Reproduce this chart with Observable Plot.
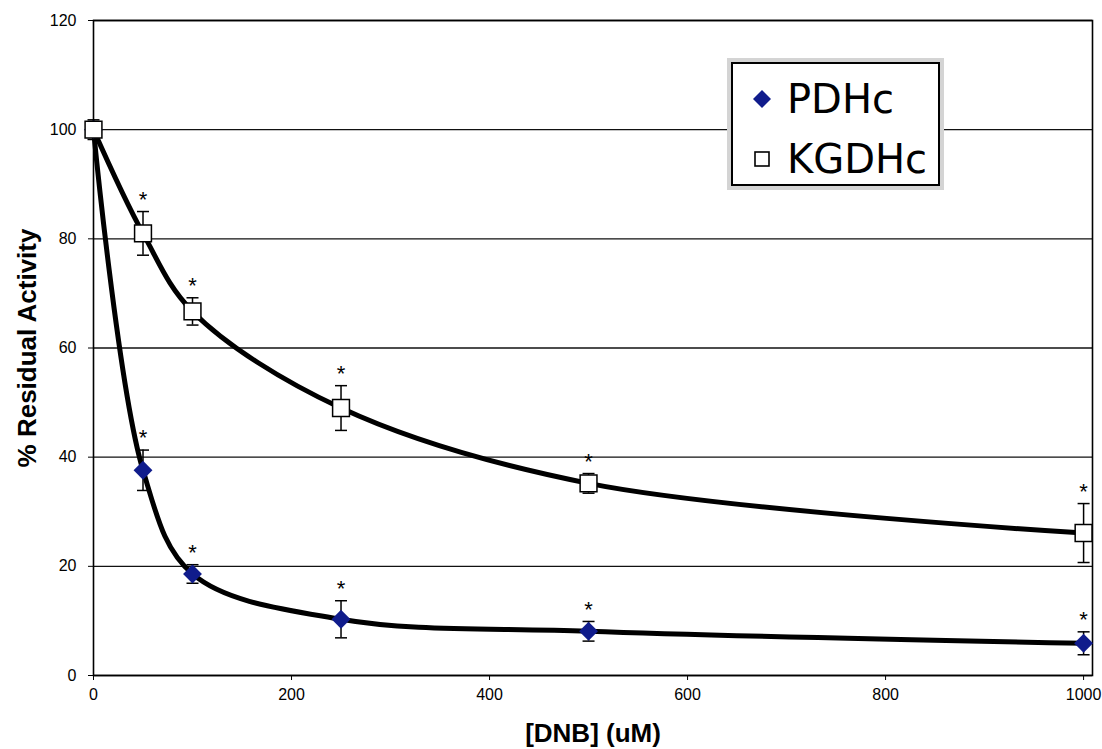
<!DOCTYPE html>
<html>
<head>
<meta charset="utf-8">
<script src="https://cdn.jsdelivr.net/npm/d3@7"></script>
<script src="https://cdn.jsdelivr.net/npm/@observablehq/plot@0.6"></script>
<style>
  body { margin: 0; background: #fff; }
  #wrap { position: relative; width: 1102px; height: 749px; }
  #legend { position: absolute; left: 727px; top: 58px; width: 209px; height: 124px; border: 4px solid #d4d4d4; background: #fff; }
  #legend .inner { position: relative; box-sizing: border-box; width: 100%; height: 100%; border: 2.5px solid #000; background: #fff; }
  #legend .row { position: absolute; left: 0; height: 50px; width: 100%; }
  #legend .row svg { position: absolute; left: 17px; top: 13px; }
  #legend .row span { position: absolute; left: 54px; top: 0; line-height: 50px; font-family: "DejaVu Sans", Verdana, sans-serif; font-size: 40px; color: #000; }
</style>
</head>
<body>
<div id="wrap"></div>
<script>
// ---- data ----
const conc = [0, 50, 100, 250, 500, 1000];                 // [DNB] (uM)
const pdhcMean = [100, 37.6, 18.6, 10.3, 8.1, 5.9];
const pdhcErr  = [0.3, 3.7, 1.7, 3.4, 1.8, 2.1];
const kgdhcMean = [100, 81.0, 66.7, 49.0, 35.2, 26.1];
const kgdhcErr  = [1.8, 4.0, 2.5, 4.1, 1.8, 5.4];
const signif = ["", "*", "*", "*", "*", "*"];
const seriesNames = ["PDHc", "KGDHc"];
const xTicks = [0, 200, 400, 600, 800, 1000];
const yTicks = [0, 20, 40, 60, 80, 100, 120];
const xTitle = "[DNB] (uM)";
const yTitle = "% Residual Activity";

const diamondColor = "#101c8c";

const rows = [];
conc.forEach((c, i) => {
  rows.push({series: "PDHc", x: c, y: pdhcMean[i], lo: pdhcMean[i] - pdhcErr[i], hi: pdhcMean[i] + pdhcErr[i], star: signif[i]});
  rows.push({series: "KGDHc", x: c, y: kgdhcMean[i], lo: kgdhcMean[i] - kgdhcErr[i], hi: kgdhcMean[i] + kgdhcErr[i], star: signif[i]});
});
const pd = rows.filter(d => d.series === "PDHc");
const kg = rows.filter(d => d.series === "KGDHc");

const cap = { draw(ctx) { ctx.moveTo(-6, 0); ctx.lineTo(6, 0); } };
const caps = rows.flatMap(d => [{x: d.x, y: d.lo}, {x: d.x, y: d.hi}]);

const chart = Plot.plot({
  width: 1102,
  height: 749,
  marginLeft: 93,
  marginRight: 10,
  marginTop: 20,
  marginBottom: 74,
  style: { fontFamily: "'Liberation Sans', Arial, sans-serif", fontSize: "16px", color: "#000", background: "#fff" },
  x: { domain: [0, 1009], ticks: xTicks, tickSize: 5, tickPadding: 8, label: null, tickFormat: d3.format("d") },
  y: { domain: [0, 120], ticks: yTicks, tickSize: 5, tickPadding: 12, label: null },
  marks: [
    Plot.ruleY(yTicks, { stroke: "#111", strokeWidth: 1.3 }),
    Plot.frame({ stroke: "#000", strokeWidth: 1.6 }),
    Plot.line(rows, { x: "x", y: "y", z: "series", curve: "catmull-rom", stroke: "#000", strokeWidth: 5 }),
    Plot.ruleX(rows, { x: "x", y1: "lo", y2: "hi", stroke: "#000", strokeWidth: 1.5 }),
    Plot.dot(caps, { x: "x", y: "y", symbol: cap, stroke: "#000", strokeWidth: 1.5, r: 5 }),
    Plot.dot(pd, { x: "x", y: "y", symbol: "diamond2", r: 8.5, fill: diamondColor, stroke: "none" }),
    Plot.dot(kg, { x: "x", y: "y", symbol: "square", r: 9.5, fill: "#fff", stroke: "#000", strokeWidth: 1.5 }),
    Plot.text(rows.filter(d => d.star), { x: "x", y: "hi", text: "star", dy: -12, fontSize: 22 }),
    Plot.text([yTitle], { frameAnchor: "left", dx: -66, rotate: -90, textAnchor: "middle", lineAnchor: "middle", fontWeight: "bold", fontSize: 26 }),
    Plot.text([xTitle], { frameAnchor: "bottom", dy: 58, textAnchor: "middle", lineAnchor: "middle", fontWeight: "bold", fontSize: 26 })
  ]
});

const wrap = document.getElementById("wrap");
wrap.appendChild(chart);

// legend (drawn inside the plot area, as in the reference)
const legend = document.createElement("div");
legend.id = "legend";
const inner = document.createElement("div");
inner.className = "inner";
legend.appendChild(inner);
seriesNames.forEach((name, i) => {
  const row = document.createElement("div");
  row.className = "row";
  row.style.top = (i === 0 ? 10 : 70) + "px";
  const icon = name === "PDHc"
    ? `<svg width="24" height="24" viewBox="-12 -12 24 24"><path d="M0,-9L9,0L0,9L-9,0Z" fill="${diamondColor}"/></svg>`
    : `<svg width="24" height="24" viewBox="-12 -12 24 24"><rect x="-7" y="-7" width="14" height="14" fill="#fff" stroke="#000" stroke-width="1.6"/></svg>`;
  row.innerHTML = icon + `<span>${name}</span>`;
  inner.appendChild(row);
});
wrap.appendChild(legend);
</script>
</body>
</html>
